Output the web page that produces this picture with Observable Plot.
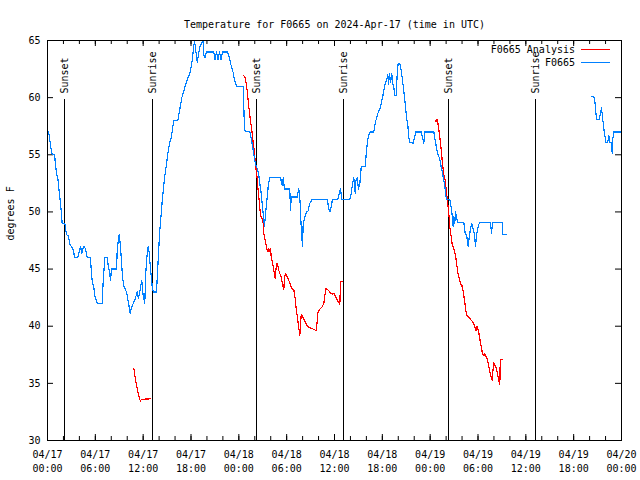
<!DOCTYPE html>
<html><head><meta charset="utf-8">
<script src="https://cdn.jsdelivr.net/npm/d3@7"></script>
<script src="https://cdn.jsdelivr.net/npm/@observablehq/plot@0.6"></script>
<style>body{margin:0;background:#fff} svg{display:block}</style>
</head><body><div id="chart"></div>
<script>
// Hours since 2024-04-17 00:00 UTC, temperatures in degrees F
const obsHours1 = [0.13,0.25,0.38,0.59,0.88,1.00,1.13,1.29,1.42,1.54,
1.72,1.84,2.17,2.22,2.38,2.63,2.80,2.97,3.22,3.30,
3.42,3.80,3.98,4.14,4.30,4.48,4.64,4.89,4.98,5.39,
5.48,5.61,5.81,5.93,6.23,6.86,6.99,7.19,7.49,7.61,
7.78,7.90,8.03,8.66,8.74,8.87,8.99,9.16,9.28,9.41,
9.57,9.91,10.12,10.29,10.37,10.50,10.75,11.00,11.25,11.41,
11.67,11.83,12.00,12.20,12.33,12.51,12.63,12.76,12.92,13.13,
13.26,13.67,13.84,13.96,14.09,14.26,14.39,14.68,14.93,15.09,
15.30,15.52,15.84,16.35,16.60,16.85,17.10,17.35,17.60,17.85,
18.10,18.28,18.44,18.78,18.94,19.10,19.36,19.53,19.61,19.76,
19.94,20.86,21.01,21.20,21.39,21.58,21.76,21.95,22.54,22.74,
22.96,23.29,23.46,23.71,24.55,24.71,25.38,25.55,25.72,25.88,
26.09,26.31,26.51,26.63,26.81,26.97,27.13,27.22,27.31,27.43,
27.56,27.72,27.89,29.23,29.44,29.57,29.73,30.39,30.48,30.57,
31.32,31.49,31.61,31.74,31.86,31.99,32.07,32.24,32.49,32.70,
32.87,33.20,35.09,35.25,35.41,35.56,35.75,36.42,36.59,36.75,
36.92,37.92,38.10,38.26,38.42,38.60,38.67,38.85,39.01,39.18,
39.35,39.51,39.85,40.02,40.18,40.35,40.52,40.93,41.11,41.27,
41.43,41.68,41.86,42.02,42.19,42.36,42.52,42.69,42.78,42.90,
43.03,43.19,43.31,43.44,43.57,43.74,43.87,43.99,44.19,44.37,
44.53,44.69,44.87,45.03,45.20,45.32,45.45,45.87,46.04,46.20,
46.88,47.04,47.20,47.33,48.46,48.67,48.80,48.96,49.21,49.39,
49.51,49.64,49.80,49.93,50.05,50.46,50.64,50.76,50.89,50.97,
51.09,51.18,51.31,51.47,52.22,52.40,52.56,52.77,52.94,53.06,
53.22,53.40,53.56,53.69,53.81,53.98,54.15,54.23,55.57,55.70,
55.82,57.04,57.11,57.58];
const obsTemps1 = [57,56.5,55.8,55,55,54.2,53.3,53,52.1,51.3,
50.1,49,49,48.8,48,47.9,47.2,47,46.7,46.4,
46,46,46.5,47,46.4,46.9,47,46.4,46,46,
45,43.9,43.4,42.7,42,42,44,46,46,45.3,
44.7,44,45,45,46.5,47.5,48,47,45.6,44.3,
43.5,43,42.2,41.5,41.1,41.5,42,42.4,43,42.4,
43.4,44,42.7,42,44.7,46.4,47,46.4,45,43.5,
43,43,45.2,46.9,48.4,49.8,51,53,54.2,55.1,
56,56.5,58,58,59,60,60.6,61.2,61.7,62.1,
63,64.1,65,63.1,63.8,64.4,64.8,65,63.7,63.5,
64,64,63.3,64,63.3,64,63.3,64,64,63.7,
63,62.2,61.5,61,61,57.1,57,56.4,55.8,55,
54.2,53.8,53.2,52.5,51.6,50.4,49.3,48.7,49.5,50.4,
51.3,52.5,53,53,52.3,53,52,52,50.1,51.3,
51.3,52,51.8,50,48.1,47,48.9,49.5,50,50.1,
50.7,51.1,51.1,50.4,50,50.4,51.1,51.1,51.6,52,
51.1,51.1,51.6,52.5,53,51.6,52.7,53,52,52.5,
53.9,54,54,55.4,56.4,56.8,57,57,57.8,58.2,
58.6,59,59.5,60,60.6,61.2,61.5,62,61.2,62.1,
61.3,62.1,61.2,60.9,60.2,60.2,62.1,63,63,62.4,
61.5,60.6,59.5,58.3,57.6,56.5,56.1,56,56.5,57,
57,56.5,56,57,57,56.1,55.6,55.1,54.6,53.9,
53.6,53,52.5,51.6,51.1,51.1,50.4,49.7,48.7,49.6,
49,50,49.5,49.1,49.1,48.1,48,47,48,48.5,
49,48.5,48,47,48,48.6,49,49.1,49.1,48.1,
49.1,49.1,48,48];
const obsHours2 = [68.24,68.53,68.65,68.78,68.87,69.20,69.37,69.49,69.62,69.78,
69.91,70.03,70.28,70.41,70.53,70.71,70.84,70.91,71.04,72.00];
const obsTemps2 = [60.1,60.1,59.75,58.7,58.1,58.1,58.7,59.1,58.3,57.3,
56.7,56.1,56.1,56.7,56.1,56.1,55.1,56.4,57,57];

const anaHours1 = [10.83,11.04,11.25,11.45,11.67,11.75,12.92];
const anaTemps1 = [36.3,35.3,34.55,33.9,33.4,33.6,33.65];
const anaHours2 = [24.62,24.77,24.84,25.05,25.25,25.46,25.63,25.80,25.97,26.13,
26.31,26.38,26.47,26.56,26.63,26.72,26.81,26.97,27.06,27.13,
27.31,27.47,27.63,27.76,27.89,27.97,28.06,28.22,28.39,28.56,
28.73,28.85,29.01,29.14,29.32,29.48,29.64,29.73,29.85,30.07,
30.27,30.48,30.65,30.90,31.07,31.20,31.32,31.45,31.57,31.65,
31.74,31.82,31.99,32.15,32.36,32.58,32.78,33.20,33.71,33.83,
33.91,34.16,34.46,34.66,34.78,34.91,35.16,35.50,35.75,35.91,
36.13,36.34,36.59,36.67,36.75,37.00];
const anaTemps2 = [61.9,61.8,61.6,60.6,59.2,58,57.1,56.1,55.1,53.9,
52.9,52.2,51.6,50.9,50.3,49.8,49.5,49.4,49,48.1,
47.5,46.9,46.5,46.8,46.5,46.8,46.1,45.6,44.9,44.2,
45.5,45.5,44.9,44.6,44.3,43.7,43.2,44.2,44.6,44.3,
44,43.6,43.3,43.2,42.4,41.5,40.9,40.2,39.6,39.2,
40,41,40.9,40.6,40.3,40,39.9,39.8,39.6,40.4,
41.2,41.5,41.7,42,42.6,43.3,43.2,42.9,42.8,42.9,
42.6,42.3,42,41.9,43.9,43.9];
const anaHours3 = [48.67,48.76,48.86,48.96,49.09,49.21,49.39,49.55,49.71,49.89,
50.05,50.21,50.39,50.46,50.64,50.80,50.89,51.05,51.18,51.31,
51.47,51.64,51.81,51.97,52.15,52.31,52.47,52.65,52.85,53.06,
53.31,53.56,53.73,53.90,54.06,54.23,54.40,54.57,54.73,54.86,
54.98,55.16,55.32,55.48,55.66,55.78,55.91,55.98,56.20,56.41,
56.61,56.74,56.79,57.04];
const anaTemps3 = [58,57.9,58.1,57.8,57.2,56.5,55.4,54.2,53.3,52.75,
51.7,50.7,49.5,48.7,47.8,47,47,46.5,46.2,45.5,
44.7,44.2,43.7,43.6,43,42.25,41.4,40.9,40.8,40.6,
40.4,40.1,39.6,40,39.6,38.9,38.2,37.6,37.4,37.6,
37.4,37.1,36.6,36,35.5,35.25,36.4,36.8,36.5,36,
35.25,34.9,37.1,37.1];

const sunHours = [2.17, 13.21, 26.22, 37.17, 50.30, 61.21];
const sunLabels = ["Sunset","Sunrise","Sunset","Sunrise","Sunset","Sunrise"];

const yTicks = [30,35,40,45,50,55,60,65];
const xMajorHours = [0,6,12,18,24,30,36,42,48,54,60,66,72];
const xMinorHours = d3.range(0, 73, 2);

const seriesNames = ["F0665 Analysis", "F0665"];
const seriesColors = ["#ff0000", "#0080ff"];
const titleText = "Temperature for F0665 on 2024-Apr-17 (time in UTC)";
const yLabel = "degrees F";

// ---- build tables ----
const start = Date.UTC(2024, 3, 17);
const toDate = h => new Date(start + h * 3600e3);
const seg = (hours, temps, id) => hours.map((h, i) => ({t: toDate(h), v: temps[i], seg: id}));
const obs = [...seg(obsHours1, obsTemps1, 1), ...seg(obsHours2, obsTemps2, 2)];
const ana = [...seg(anaHours1, anaTemps1, 1), ...seg(anaHours2, anaTemps2, 2), ...seg(anaHours3, anaTemps3, 3)];
const sun = sunHours.map((h, i) => ({t: toDate(h), label: sunLabels[i]}));
const xMajor = xMajorHours.map(toDate);
const xMinor = xMinorHours.map(toDate);
const fmt = d3.utcFormat("%m/%d\n%H:%M");

const W = 640, H = 480, mL = 47, mR = 19, mT = 40, mB = 40;
const pW = W - mL - mR, pH = H - mT - mB;
const FONT = "'DejaVu Sans Mono', 'Liberation Mono', monospace";

const chart = Plot.plot({
  width: W, height: H,
  marginLeft: mL, marginRight: mR, marginTop: mT, marginBottom: mB,
  style: {fontFamily: FONT, fontSize: "10px", background: "#fff", color: "#000"},
  x: {type: "utc", domain: [toDate(0), toDate(72)], axis: null},
  y: {domain: [30, 65], axis: null},
  marks: [
    Plot.tickY(yTicks, {y: d => d, insetRight: pW - 6, stroke: "#000"}),
    Plot.tickY(yTicks, {y: d => d, insetLeft: pW - 6, stroke: "#000"}),
    Plot.tickX(xMinor, {x: d => d, insetBottom: pH - 4, stroke: "#000"}),
    Plot.tickX(xMinor, {x: d => d, insetTop: pH - 4, stroke: "#000"}),
    Plot.tickX(xMajor, {x: d => d, insetBottom: pH - 6, stroke: "#000"}),
    Plot.tickX(xMajor, {x: d => d, insetTop: pH - 6, stroke: "#000"}),
    Plot.ruleX(sun, {x: "t", insetTop: 59, stroke: "#000", strokeWidth: 1, shapeRendering: "crispEdges"}),
    Plot.text(sun, {x: "t", text: "label", frameAnchor: "top", dy: 53, rotate: -90,
      textAnchor: "start", lineAnchor: "middle", fill: "#000"}),
    Plot.line(ana, {x: "t", y: "v", z: "seg", stroke: seriesColors[0], strokeWidth: 1.2, clip: true, shapeRendering: "crispEdges"}),
    Plot.line(obs, {x: "t", y: "v", z: "seg", stroke: seriesColors[1], strokeWidth: 1.2, clip: true, shapeRendering: "crispEdges"}),
    Plot.frame({stroke: "#000", shapeRendering: "crispEdges"}),
    Plot.text(yTicks, {y: d => d, frameAnchor: "left", dx: -7, textAnchor: "end", text: d => `${d}`, fill: "#000"}),
    Plot.text(xMajor, {x: d => d, frameAnchor: "bottom", dy: 8, lineAnchor: "top", lineHeight: 1.4, text: d => fmt(d), fill: "#000"}),
    Plot.text([titleText], {frameAnchor: "top", dy: -20, text: d => d, fill: "#000"}),
    Plot.text([yLabel], {frameAnchor: "left", dx: -37, rotate: -90, text: d => d, fill: "#000"})
  ]
});

// legend (top-right, inside frame)
const svg = d3.select(chart);
const leg = svg.append("g").attr("font-family", FONT).attr("font-size", 10);
seriesNames.forEach((name, i) => {
  const y = 49.5 + i * 13;
  leg.append("text").attr("x", 575).attr("y", y).attr("dy", "0.32em")
    .attr("text-anchor", "end").attr("fill", "#000").text(name);
  leg.append("line").attr("x1", 581).attr("x2", 610).attr("y1", y).attr("y2", y)
    .attr("stroke", seriesColors[i]).attr("stroke-width", 1).attr("shape-rendering", "crispEdges");
});

document.getElementById("chart").appendChild(chart);
</script>
</body></html>
